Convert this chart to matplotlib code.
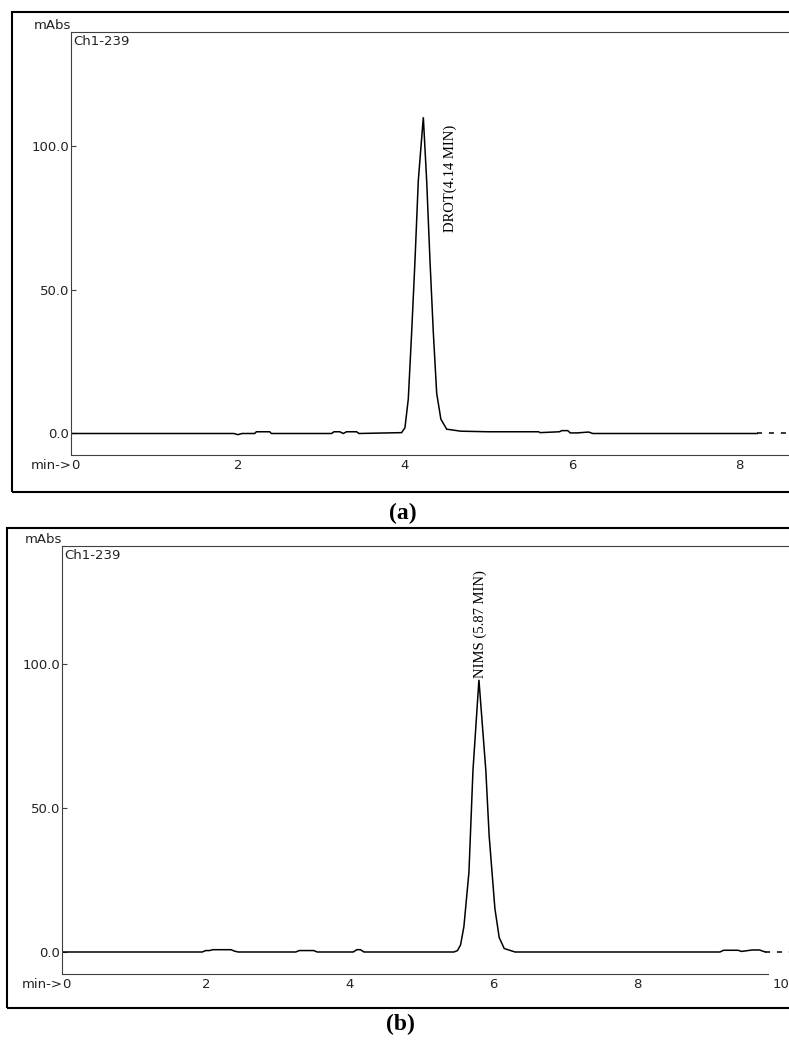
import matplotlib
matplotlib.use("Agg")
import matplotlib.pyplot as plt
from matplotlib.patches import Rectangle

# --- Configuration ---
OUTPUT_PATH = "out.png"
FIG_W, FIG_H, DPI = 7.89, 10.41, 100
TICK_FONT = "DejaVu Sans"
LABEL_FONT = "Liberation Serif"
INK = "#222222"
SPINE = "#404040"

# --- Panel (a): DROT chromatogram (time in min, signal in mAbs) ---
time_a = [0.0, 1.95, 2.0, 2.05, 2.2, 2.22, 2.38, 2.4, 3.12, 3.15, 3.22, 3.26,
          3.3, 3.42, 3.45, 3.96, 4.0, 4.04, 4.08, 4.12, 4.16, 4.22, 4.26,
          4.3, 4.34, 4.38, 4.43, 4.5, 4.67, 5.0, 5.6, 5.62, 5.85, 5.88,
          5.95, 5.98, 6.06, 6.2, 6.25, 8.22]
abs_a = [0.0, 0.0, -0.4, 0.0, 0.0, 0.6, 0.6, 0.0, 0.0, 0.6, 0.6, 0.0,
         0.6, 0.6, 0.0, 0.3, 2.0, 12.0, 35.0, 60.0, 88.0, 110.0, 88.0,
         60.0, 35.0, 14.0, 5.0, 1.5, 0.8, 0.6, 0.6, 0.3, 0.6, 1.0,
         1.0, 0.2, 0.2, 0.5, 0.0, 0.0]
tail_time_a = [8.22, 8.6]
tail_abs_a = [0.0, 0.0]
xticks_a = [0, 2, 4, 6, 8]
yticks_a = [0.0, 50.0, 100.0]
peak_label_a = "DROT(4.14 MIN)"

# --- Panel (b): NIMS chromatogram ---
time_b = [0.0, 1.95, 2.0, 2.05, 2.1, 2.35, 2.4, 2.45, 3.25, 3.3, 3.5, 3.55,
          4.05, 4.1, 4.15, 4.2, 5.45, 5.5, 5.543, 5.589, 5.659, 5.715, 5.798,
          5.894, 5.94, 6.02, 6.08, 6.15, 6.3, 9.15, 9.2, 9.4, 9.45, 9.6, 9.7,
          9.78]
abs_b = [0.0, 0.0, 0.5, 0.5, 0.8, 0.8, 0.3, 0.0, 0.0, 0.5, 0.5, 0.0,
         0.0, 0.8, 0.8, 0.0, 0.0, 0.5, 2.5, 8.8, 27.7, 63.0, 94.5,
         63.0, 40.4, 15.1, 5.0, 1.2, 0.0, 0.0, 0.6, 0.6, 0.2, 0.7, 0.7,
         0.0]
tail_time_b = [9.78, 10.11]
tail_abs_b = [0.0, 0.0]
xticks_b = [0, 2, 4, 6, 8, 10]
yticks_b = [0.0, 50.0, 100.0]
peak_label_b = "NIMS (5.87 MIN)"


def px_rect(left, top, right, bottom):
    """Converts pixel edges of the reference picture to a figure rect."""
    return [left / 789, 1 - bottom / 1041, (right - left) / 789, (bottom - top) / 1041]


def draw_panel(fig, rect, box, xlim, ylim, time, signal, tail_time, tail_signal,
               xticks, yticks, label, label_xy, spine_end=None):
    """Draws one chromatogram panel with its frame."""
    fig.patches.append(Rectangle((box[0], box[1]), box[2], box[3], fill=False,
                                 lw=1.5, ec="black", transform=fig.transFigure))
    ax = fig.add_axes(rect)
    ax.plot(time, signal, color="black", lw=1.1, solid_joinstyle="miter")
    ax.plot(tail_time, tail_signal, color="black", lw=1.1, linestyle=(0, (3.3, 4.5)))
    ax.set_xlim(*xlim)
    ax.set_ylim(*ylim)

    for side in ["left", "top", "bottom"]:
        ax.spines[side].set_color(SPINE)
        ax.spines[side].set_linewidth(0.8)
    ax.spines["right"].set_visible(False)
    if spine_end is not None:
        ax.spines["bottom"].set_bounds(0, spine_end)

    ax.set_yticks(yticks)
    ax.set_yticklabels([f"{v:.1f}" for v in yticks])
    ax.set_xticks(xticks)
    ax.set_xticklabels([str(v) for v in xticks])
    ax.get_xticklabels()[0].set_horizontalalignment("left")
    ax.tick_params(axis="y", direction="in", length=3.5, width=0.8, pad=1.5,
                   color=SPINE, labelsize=9.5, labelcolor=INK)
    ax.tick_params(axis="x", length=0, pad=3, labelsize=9.5, labelcolor=INK)
    for t in ax.get_xticklabels() + ax.get_yticklabels():
        t.set_family(TICK_FONT)

    ax.annotate("min->", xy=(0, 0), xycoords="axes fraction", xytext=(0.5, -3),
                textcoords="offset points", ha="right", va="top",
                fontsize=9.5, family=TICK_FONT, color=INK)
    ax.annotate("mAbs", xy=(0, 1), xycoords="axes fraction", xytext=(0, 2),
                textcoords="offset points", ha="right", va="baseline",
                fontsize=9.5, family=TICK_FONT, color=INK)
    ax.annotate("Ch1-239", xy=(0, 1), xycoords="axes fraction", xytext=(1.5, -2),
                textcoords="offset points", ha="left", va="top",
                fontsize=9.5, family=TICK_FONT, color=INK)
    ax.text(label_xy[0], label_xy[1], label, rotation=90, ha="center", va="bottom",
            fontsize=10.5, family=LABEL_FONT, color="black")
    return ax


def main():
    fig = plt.figure(figsize=(FIG_W, FIG_H), dpi=DPI)

    draw_panel(fig, px_rect(71, 32, 789, 455), px_rect(12, 12, 820, 492),
               (0, 8.6), (-7.48, 139.65), time_a, abs_a, tail_time_a, tail_abs_a,
               xticks_a, yticks_a, peak_label_a, (4.54, 70.0))
    draw_panel(fig, px_rect(62, 546, 789, 974), px_rect(7, 528, 820, 1008),
               (0, 10.11), (-7.64, 140.97), time_b, abs_b, tail_time_b, tail_abs_b,
               xticks_b, yticks_b, peak_label_b, (5.82, 95.0), spine_end=9.82)

    fig.text(403 / 789, 1 - 513 / 1041, "(a)", ha="center", va="center",
             fontsize=17, fontweight="bold", family=LABEL_FONT)
    fig.text(400 / 789, 1 - 1024 / 1041, "(b)", ha="center", va="center",
             fontsize=17, fontweight="bold", family=LABEL_FONT)

    fig.savefig(OUTPUT_PATH, dpi=DPI)


if __name__ == "__main__":
    main()
